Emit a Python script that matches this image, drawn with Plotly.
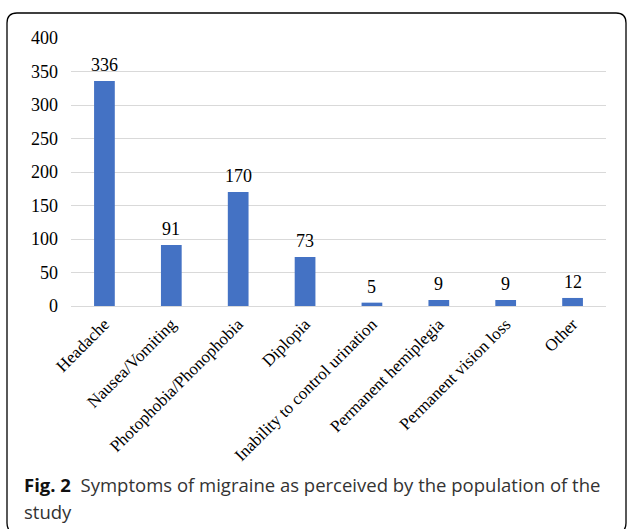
import plotly.graph_objects as go

categories = ["Headache", "Nausea/Vomiting", "Photophobia/Phonophobia", "Diplopia",
              "Inability to control urination", "Permanent hemiplegia",
              "Permanent vision loss", "Other"]
values = [336, 91, 170, 73, 5, 9, 9, 12]
y_ticks = [0, 50, 100, 150, 200, 250, 300, 350, 400]

W, H = 627, 529
L, R, T, B = 71, 21, 38, 223
pw, ph = W - L - R, H - T - B


def px(x):
    return (x - L) / pw


def py(y):
    return (H - B - y) / ph


SERIF = "Liberation Serif, Times New Roman, serif"
SANS = "Open Sans, Noto Sans, sans-serif"

fig = go.Figure()
fig.add_trace(go.Bar(x=categories, y=values, marker=dict(color="#4472C4", line=dict(width=0)),
                     width=0.31, hoverinfo="skip"))

annotations = []
for c, v in zip(categories, values):
    annotations.append(dict(x=c, y=v, xref="x", yref="y", text=str(v), showarrow=False,
                            yanchor="bottom", yshift=4,
                            font=dict(family=SERIF, size=18, color="#000000")))

annotations.append(dict(x=px(22), y=py(484), xref="paper", yref="paper", xanchor="left",
                        yanchor="middle", showarrow=False,
                        text="<b>Fig. 2</b>&nbsp;&nbsp;<span style='color:#333333'>Symptoms of migraine as perceived by the population of the</span>",
                        font=dict(family=SANS, size=18.5, color="#111111")))
annotations.append(dict(x=px(22), y=py(512), xref="paper", yref="paper", xanchor="left",
                        yanchor="middle", showarrow=False, text="study",
                        font=dict(family=SANS, size=18.5, color="#333333")))

# rounded frame
x0, y0, x1, y1, r = 7, 13, 626, 533, 10
path = (f"M {px(x0)},{py(y0 + r)} Q {px(x0)},{py(y0)} {px(x0 + r)},{py(y0)} "
        f"L {px(x1 - r)},{py(y0)} Q {px(x1)},{py(y0)} {px(x1)},{py(y0 + r)} "
        f"L {px(x1)},{py(y1 - r)} Q {px(x1)},{py(y1)} {px(x1 - r)},{py(y1)} "
        f"L {px(x0 + r)},{py(y1)} Q {px(x0)},{py(y1)} {px(x0)},{py(y1 - r)} Z")

fig.update_layout(
    width=W, height=H,
    margin=dict(l=L, r=R, t=T, b=B, autoexpand=False),
    paper_bgcolor="white", plot_bgcolor="white",
    showlegend=False,
    annotations=annotations,
    shapes=[dict(type="path", path=path, xref="paper", yref="paper",
                 line=dict(color="#000000", width=1.3), fillcolor="rgba(0,0,0,0)", layer="below")],
    xaxis=dict(tickangle=-45, tickfont=dict(family=SERIF, size=17, color="#000000"),
               showgrid=False, showline=False, zeroline=False, ticks="",
               ticklabelstandoff=4),
    yaxis=dict(range=[0, 400], tickvals=y_ticks, ticktext=[str(t) for t in y_ticks],
               tickfont=dict(family=SERIF, size=18, color="#000000"),
               showgrid=True, gridcolor="#d9d9d9", gridwidth=1,
               zeroline=True, zerolinecolor="#d9d9d9", zerolinewidth=1,
               showline=False, ticks="", ticklabelstandoff=12),
)

fig.write_html("out.html")
